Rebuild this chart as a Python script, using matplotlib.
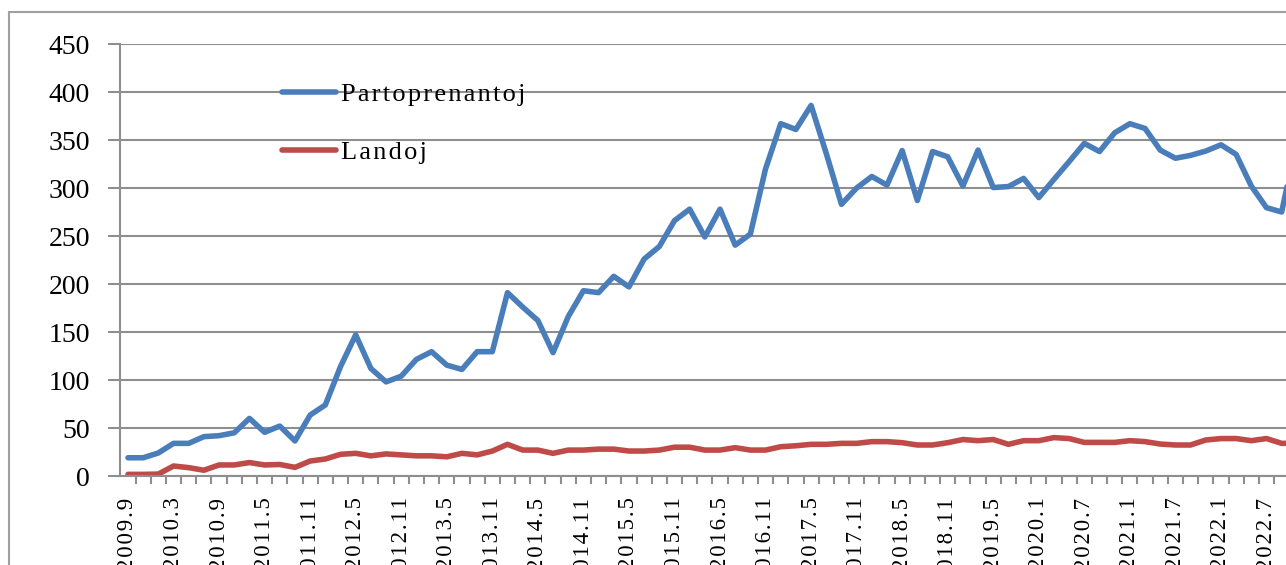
import numpy as np
import matplotlib
matplotlib.use('Agg')
import matplotlib.pyplot as plt
from matplotlib.lines import Line2D
from matplotlib.ticker import FixedLocator, MultipleLocator

plt.rcParams['font.family'] = ['Liberation Serif', 'DejaVu Serif']

# every third category carries a label (one point per ~2 months)
tick_labels = ['2009.9', '2010.3', '2010.9', '2011.5', '2011.11', '2012.5', '2012.11',
               '2013.5', '2013.11', '2014.5', '2014.11', '2015.5', '2015.11', '2016.5',
               '2016.11', '2017.5', '2017.11', '2018.5', '2018.11', '2019.5', '2020.1',
               '2020.7', '2021.1', '2021.7', '2022.1', '2022.7']

partoprenantoj = [19, 19, 24, 34, 34, 41, 42, 45, 60, 45.5,
                  52, 36.5, 63.5, 74, 114, 147, 112, 98, 104, 121.5,
                  129.5, 115.5, 111, 129.5, 129.5, 191, 176, 162, 128.5, 166,
                  193, 191, 208, 197, 226, 239, 266, 278, 249, 278,
                  240.5, 252, 320, 367, 361, 386, 336, 283, 300, 312,
                  303, 339, 287, 338, 332.5, 302, 339.5, 300.5, 301.5, 310,
                  290, 309, 327.5, 346.5, 338, 357.5, 367, 362, 339.5, 331,
                  334, 338.5, 345, 335, 302, 279.5, 275, 350]

landoj = [1.7, 1.7, 2, 10.4, 8.7, 6, 11.5, 11.5, 14, 11.5,
          12, 9, 15.6, 17.7, 22.6, 23.6, 21, 23, 22, 21,
          21, 20, 23.6, 22, 26, 33, 27, 27, 23.6, 27,
          27, 28, 28, 26, 26, 27, 30, 30, 27, 27,
          29.5, 27, 27, 30.5, 31.5, 33, 33, 34, 34, 35.8,
          35.8, 34.7, 32.3, 32.3, 34.7, 38, 36.8, 38, 33, 36.8,
          36.8, 40, 39, 35, 35, 35, 36.8, 35.8, 33.3, 32.3,
          32.3, 37.5, 39, 39, 36.8, 39, 34, 34]

n = len(partoprenantoj)
x = np.arange(n)
grey = '#8e8e8e'


def spaced(s, gap):
    # the original text is drawn wide; imitate with small spaces between letters
    return gap.join(s)


W, H = 1286, 565
fig = plt.figure(figsize=(W / 100, H / 100), dpi=100)
# plot area runs past the right edge of the picture, as in the original crop
ax = fig.add_axes([120.4 / W, 89 / H, n * 15.18 / W, 432 / H])

ax.plot(x, partoprenantoj, color='#4a7ebb', lw=4, solid_joinstyle='round',
        solid_capstyle='round', label=spaced('Partoprenantoj', '\u200a'))
ax.plot(x, landoj, color='#be4b48', lw=4, solid_joinstyle='round',
        solid_capstyle='round', label=spaced('Landoj', '\u200a'))

ax.set_xlim(-0.5, n - 0.5)
ax.set_ylim(0, 450)
ax.yaxis.set_major_locator(MultipleLocator(50))
ax.grid(axis='y', color=grey, lw=1.5)
ax.set_axisbelow(True)

ax.xaxis.set_major_locator(FixedLocator(np.arange(0, n, 3)[:len(tick_labels)]))
ax.set_xticklabels([spaced(t, '\u200a') for t in tick_labels],
                   rotation=90, va='top', ha='center')
ax.xaxis.set_minor_locator(FixedLocator(np.arange(0.5, n, 1)))
ax.tick_params(axis='x', which='major', length=0, pad=15.5, labelsize=16.5)
ax.tick_params(axis='x', which='minor', length=6, width=1.5, color=grey, direction='out')
ax.tick_params(axis='y', length=9, width=1.5, color=grey, pad=13, labelsize=20)

for side in ['top', 'right']:
    ax.spines[side].set_visible(False)
for side in ['left', 'bottom']:
    ax.spines[side].set_color(grey)
    ax.spines[side].set_linewidth(1.5)

ax.legend(loc='upper left', bbox_to_anchor=(258 / W, 1 - 59 / H),
          bbox_transform=fig.transFigure, frameon=False, fontsize=19,
          handlelength=2.05, handletextpad=0.18, labelspacing=1.3)

# outer chart border (only left and top survive the crop)
fig.add_artist(Line2D([9 / W, 9 / W], [0, 1 - 12 / H], color='#a0a0a0', lw=1.5))
fig.add_artist(Line2D([9 / W, 1], [1 - 12 / H, 1 - 12 / H], color='#a0a0a0', lw=1.5))

fig.savefig('out.png', dpi=100)
